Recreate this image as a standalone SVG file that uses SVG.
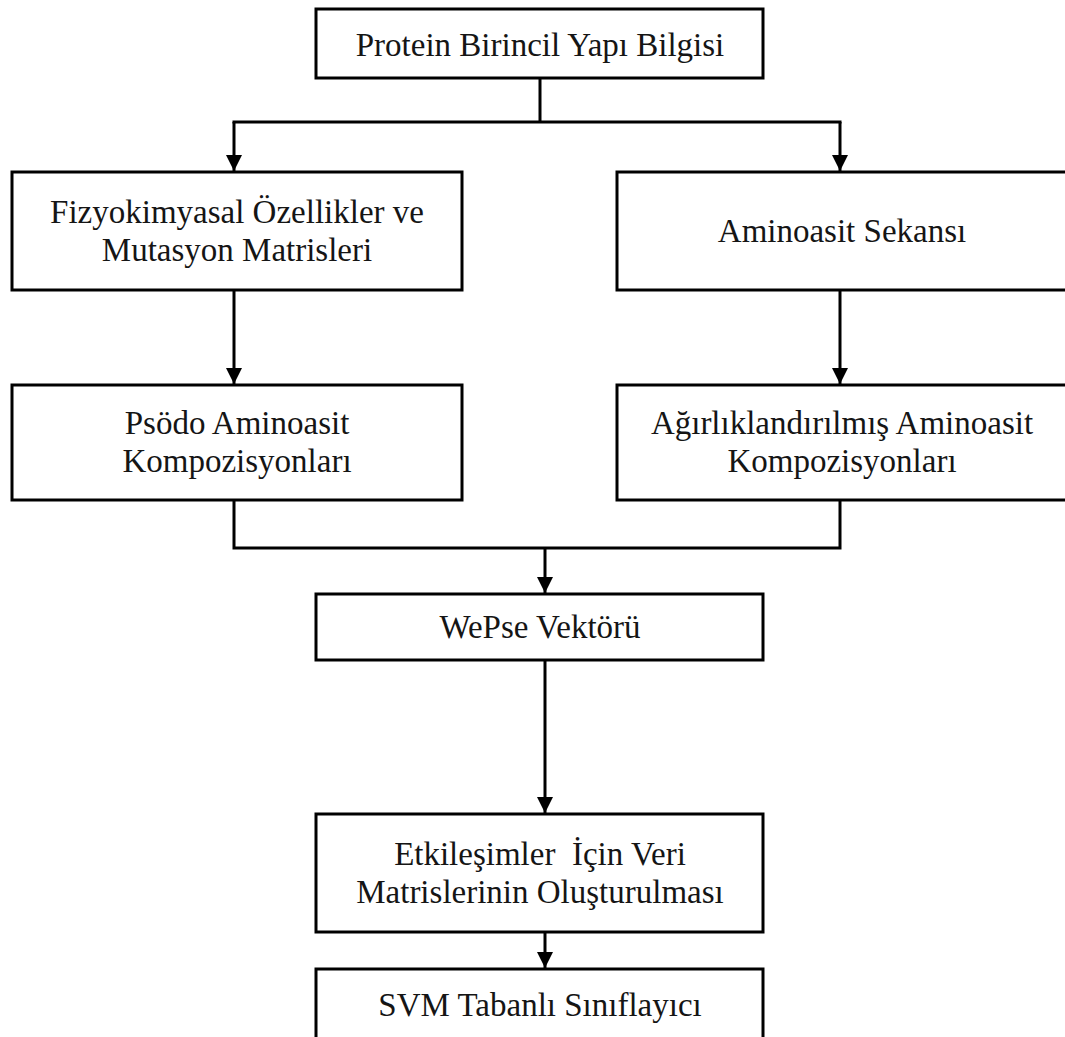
<svg xmlns="http://www.w3.org/2000/svg" width="1065" height="1037" viewBox="0 0 1065 1037">
<style>
.box{fill:#fff;stroke:#000;stroke-width:3}
.lbl{font-family:"Liberation Serif","Times New Roman",serif;font-size:33px;fill:#151515;text-anchor:middle;white-space:pre}
.con{fill:none;stroke:#000;stroke-width:3}
</style>
<defs>
<marker id="arr" markerUnits="userSpaceOnUse" markerWidth="18" markerHeight="16" refX="16" refY="8" orient="auto">
<path d="M0,0 L16,8 L0,16 Z" fill="#000"/>
</marker>
</defs>
<rect width="1065" height="1037" fill="#fff"/>
<g id="connectors">
<path class="con" d="M540,78 V122"/>
<path class="con" d="M232.5,122 H841.5"/>
<path class="con" d="M234,122 V171" marker-end="url(#arr)"/>
<path class="con" d="M840,122 V171" marker-end="url(#arr)"/>
<path class="con" d="M234,290 V384" marker-end="url(#arr)"/>
<path class="con" d="M840,290 V384" marker-end="url(#arr)"/>
<path class="con" d="M234,500 V548 H840 V500"/>
<path class="con" d="M545,548 V593" marker-end="url(#arr)"/>
<path class="con" d="M545,660 V813" marker-end="url(#arr)"/>
<path class="con" d="M545,932 V968" marker-end="url(#arr)"/>
</g>
<g id="n1"><rect class="box" x="316" y="9" width="447" height="69"/><text class="lbl" x="540" y="56">Protein Birincil Yapı Bilgisi</text></g>
<g id="n2"><rect class="box" x="12" y="172" width="450" height="118"/><text class="lbl" x="237" y="223">Fizyokimyasal Özellikler ve</text><text class="lbl" x="237" y="261">Mutasyon Matrisleri</text></g>
<g id="n3"><rect class="box" x="617" y="172" width="460" height="118"/><text class="lbl" x="842" y="242">Aminoasit Sekansı</text></g>
<g id="n4"><rect class="box" x="12" y="385" width="450" height="115"/><text class="lbl" x="237" y="434">Psödo Aminoasit</text><text class="lbl" x="237" y="472">Kompozisyonları</text></g>
<g id="n5"><rect class="box" x="617" y="385" width="460" height="115"/><text class="lbl" x="842" y="434">Ağırlıklandırılmış Aminoasit</text><text class="lbl" x="842" y="472">Kompozisyonları</text></g>
<g id="n6"><rect class="box" x="316" y="594" width="447" height="66"/><text class="lbl" x="540" y="638">WePse Vektörü</text></g>
<g id="n7"><rect class="box" x="316" y="814" width="447" height="118"/><text class="lbl" x="540" y="865">Etkileşimler  İçin Veri</text><text class="lbl" x="540" y="903">Matrislerinin Oluşturulması</text></g>
<g id="n8"><rect class="box" x="316" y="969" width="447" height="80"/><text class="lbl" x="540" y="1016">SVM Tabanlı Sınıflayıcı</text></g>
</svg>
